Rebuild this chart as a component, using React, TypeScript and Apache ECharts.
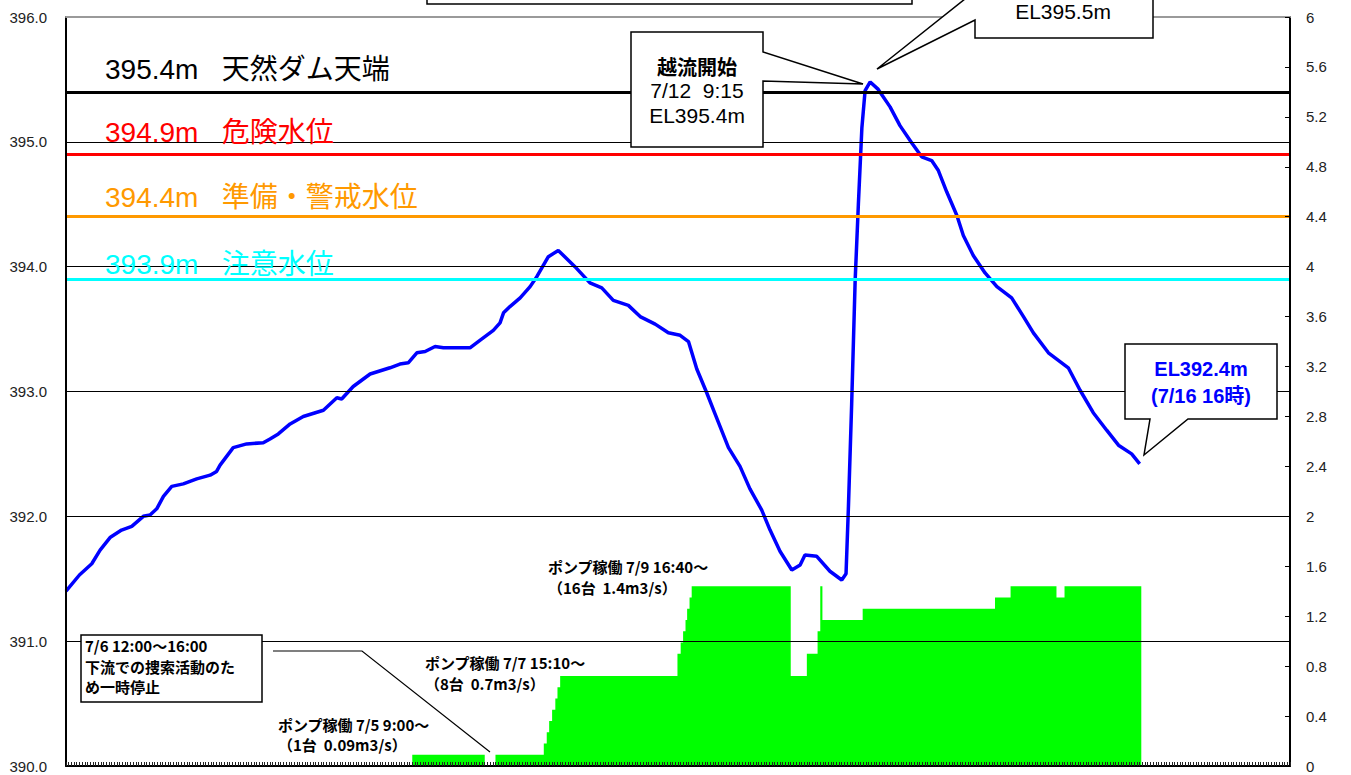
import React, { useEffect, useRef } from 'react';
import * as echarts from 'echarts';

// x = hours elapsed since 6/30 0:00 (axis runs to 7/19 0:00)
const X_MIN = 0;
const X_MAX = 456;

// water level (EL m): [hour, level]
const levelData: [number, number][] = [
  [0, 391.40], [5, 391.53], [9.6, 391.62], [12.7, 391.73], [16.4, 391.83], [20.7, 391.89],
  [24.5, 391.92], [28.8, 392.0], [31.3, 392.01], [33.8, 392.06], [36.3, 392.16], [39.4, 392.24],
  [43.7, 392.26], [48.7, 392.3], [53.7, 392.33], [56.1, 392.36], [57.4, 392.41], [62.3, 392.55],
  [67.3, 392.58], [73.5, 392.59], [76, 392.62], [79.1, 392.66], [83.5, 392.74], [88.4, 392.8],
  [95.9, 392.85], [100.9, 392.95], [102.7, 392.94], [107, 393.04], [113.3, 393.14], [120.7, 393.19],
  [124.4, 393.22], [127.5, 393.23], [130.7, 393.31], [133.8, 393.32], [137.5, 393.36], [140.6, 393.35],
  [146.2, 393.35], [150.5, 393.35], [154.2, 393.41], [159.2, 393.49], [161.7, 393.55], [163, 393.63],
  [165.4, 393.68], [169.2, 393.75], [172.9, 393.84], [175.4, 393.92], [179.7, 394.08], [183.4, 394.13],
  [189.6, 394.0], [195.2, 393.87], [199.6, 393.83], [203.9, 393.73], [209.5, 393.69], [213.9, 393.6],
  [219.5, 393.54], [224.4, 393.47], [228.8, 393.45], [231.9, 393.4], [235, 393.18], [238.7, 392.99],
  [241.8, 392.82], [246.8, 392.55], [251.1, 392.4], [254.8, 392.22], [259.2, 392.05], [262.3, 391.89],
  [266, 391.72], [270.4, 391.57], [273.5, 391.61], [275.3, 391.69], [279.7, 391.68], [284.6, 391.56],
  [289, 391.49], [290.6, 391.54], [291.5, 392.08], [292.7, 392.9], [294, 393.89], [295.2, 394.5],
  [296.5, 395.11], [297.7, 395.41], [299.6, 395.48], [302.6, 395.42], [307, 395.28], [310.7, 395.13],
  [315.1, 394.99], [318.8, 394.88], [322.5, 394.85], [325, 394.77], [328.1, 394.6], [331.9, 394.41],
  [334.3, 394.25], [338, 394.09], [342.4, 393.95], [346.8, 393.84], [352.3, 393.75], [356.7, 393.6],
  [360.4, 393.47], [366, 393.31], [373.4, 393.19], [377.8, 393.01], [382.7, 392.83], [387.7, 392.69],
  [392.1, 392.57], [397, 392.5], [400, 392.42],
];

// pump discharge (m3/s): [hour, value holding until next point]
const pumpData: [number, number][] = [
  [129, 0.09], [156, 0], [160, 0.09], [178, 0.18], [179.1, 0.27], [180, 0.36], [181.1, 0.45],
  [182.3, 0.54], [183.1, 0.63], [184.1, 0.72], [227.8, 0.9], [229, 0.99], [229.9, 1.08],
  [230.8, 1.17], [231.4, 1.26], [232.3, 1.35], [233.1, 1.44], [270, 0.72], [276, 0.9],
  [280, 1.08], [281, 1.44], [281.8, 1.17], [296.8, 1.26], [346.1, 1.35], [351.9, 1.44],
  [369, 1.35], [372, 1.44], [400.6, 0],
];

const refLevels = [395.4, 394.9, 394.4, 393.9];
const refNames = ['天然ダム天端', '危険水位', '準備・警戒水位', '注意水位'];
const refColors = ['#000000', '#ff0000', '#ff9900', '#00ffff'];
const refLabelOffsets = [22, 22, 19, 15];

const LEFT_MIN = 390;
const LEFT_MAX = 396;
const LEFT_STEP = 1;
const RIGHT_MIN = 0;
const RIGHT_MAX = 6;
const RIGHT_STEP = 0.4;

const JP = '"Noto Sans CJK JP", sans-serif';
const LAT = '"Liberation Sans", "Noto Sans CJK JP", sans-serif';

export default function App() {
  const ref = useRef<HTMLDivElement>(null);

  useEffect(() => {
    const chart = echarts.init(ref.current!, null, { renderer: 'svg' });
    chart.setOption({
      animation: false,
      backgroundColor: '#ffffff',
      grid: { left: 66, right: 61, top: 17, bottom: 9, containLabel: false },
      xAxis: [
        {
          type: 'value', min: X_MIN, max: X_MAX, interval: 1, z: 10,
          axisLine: { show: true, onZero: false, lineStyle: { color: '#000', width: 2 } },
          axisTick: { show: true, inside: true, length: 4, lineStyle: { color: '#222', width: 1 } },
          axisLabel: { show: false },
          splitLine: { show: false },
        },
        {
          type: 'value', position: 'top', min: X_MIN, max: X_MAX, z: 10,
          axisLine: { show: true, onZero: false, lineStyle: { color: '#9a9a9a', width: 2 } },
          axisTick: { show: false }, axisLabel: { show: false }, splitLine: { show: false },
        },
      ],
      yAxis: [
        {
          type: 'value', position: 'left', min: LEFT_MIN, max: LEFT_MAX, interval: LEFT_STEP, z: 10,
          axisLine: { show: true, onZero: false, lineStyle: { color: '#000', width: 2 } },
          axisTick: { show: false },
          minorTick: { show: false },
          axisLabel: {
            formatter: (v: number) => v.toFixed(1), fontSize: 15, color: '#222', margin: 19, fontFamily: LAT,
          },
          splitLine: { show: true, showMinLine: false, showMaxLine: false, lineStyle: { color: '#000', width: 1 } },
        },
        {
          type: 'value', position: 'right', min: RIGHT_MIN, max: RIGHT_MAX, interval: RIGHT_STEP, z: 10,
          axisLine: { show: true, onZero: false, lineStyle: { color: '#000', width: 2 } },
          axisTick: { show: true, inside: true, length: 5, lineStyle: { color: '#000', width: 1 } },
          minorTick: { show: false },
          axisLabel: {
            formatter: (v: number) => String(+v.toFixed(1)), fontSize: 15, color: '#222', margin: 16, fontFamily: LAT,
          },
          splitLine: { show: false },
        },
      ],
      series: [
        {
          name: 'ポンプ', type: 'line', xAxisIndex: 0, yAxisIndex: 1, data: pumpData,
          step: 'end', symbol: 'none', z: 1,
          lineStyle: { width: 0, color: '#00ff00' },
          areaStyle: { color: '#00ff00', opacity: 1 },
        },
        {
          name: '水位', type: 'line', xAxisIndex: 0, yAxisIndex: 0, data: levelData,
          symbol: 'none', z: 3,
          lineStyle: { color: '#0000ff', width: 3.5 },
        },
        {
          name: '基準', type: 'line', xAxisIndex: 0, yAxisIndex: 0, data: [], z: 4,
          markLine: {
            silent: true, symbol: 'none', animation: false,
            label: { show: false },
            data: refLevels.map((v, i) => ({
              yAxis: v, lineStyle: { color: refColors[i], width: 3, type: 'solid' },
            })),
          },
        },
      ],
    });

    const py = (v: number) => chart.convertToPixel({ yAxisIndex: 0 }, v) as number;

    const txt = (id: string, x: number, y: number, text: string, font: string, fill = '#000', align = 'left', lineHeight?: number) => ({
      type: 'text', id, x, y, z: 120,
      style: {
        text, font, fill, align, textAlign: align, verticalAlign: 'middle', textVerticalAlign: 'middle',
        ...(lineHeight ? { lineHeight } : {}),
      },
    });

    const box = (id: string, pts: number[][]) => ({
      type: 'polygon', id, z: 110,
      shape: { points: pts },
      style: { fill: '#ffffff', stroke: '#000000', lineWidth: 1.5 },
    });

    const graphics: any[] = [];
    refLevels.forEach((v, i) => {
      graphics.push(txt('ref' + i, 105, py(v) - refLabelOffsets[i], `${v.toFixed(1)}m   ${refNames[i]}`,
        `28px ${LAT}`, refColors[i]));
    });

    // title box (clipped at top)
    graphics.push({ type: 'rect', id: 'title', z: 110, shape: { x: 427, y: -40, width: 485, height: 44 },
      style: { fill: '#fff', stroke: '#000', lineWidth: 1.5 } });

    // callout: max level
    graphics.push(box('cMax', [[975, -40], [1153, -40], [1153, 38], [975, 38], [975, 20], [877, 69], [975, -9]]));
    graphics.push(txt('tMax', 1063, 11, 'EL395.5m', `21px ${LAT}`, '#000', 'center'));

    // callout: overflow start
    graphics.push(box('cOv', [[631, 32], [763, 32], [763, 52], [863, 84], [763, 81], [763, 147], [631, 147]]));
    graphics.push(txt('tOv1', 697, 66, '越流開始', `bold 20px ${JP}`, '#000', 'center'));
    graphics.push(txt('tOv2', 697, 90, '7/12  9:15', `21px ${LAT}`, '#000', 'center'));
    graphics.push(txt('tOv3', 697, 115, 'EL395.4m', `21px ${LAT}`, '#000', 'center'));

    // callout: latest
    graphics.push(box('cLast', [[1125, 344], [1277, 344], [1277, 419], [1188, 419], [1144, 455], [1150, 419], [1125, 419]]));
    graphics.push(txt('tLast', 1201, 382, 'EL392.4m\n(7/16 16時)', `bold 20px ${LAT}`, '#0000ff', 'center', 27));

    // stop note box
    graphics.push({ type: 'rect', id: 'stopBox', z: 110, shape: { x: 81, y: 635, width: 181, height: 67 },
      style: { fill: '#fff', stroke: '#000', lineWidth: 1.5 } });
    graphics.push(txt('stop', 85, 666, '7/6 12:00～16:00\n下流での捜索活動のた\nめ一時停止', `bold 15px ${JP}`, '#000', 'left', 20.5));
    graphics.push({ type: 'polyline', id: 'stopLead', z: 110,
      shape: { points: [[273, 651], [362, 651], [490, 752]] },
      style: { stroke: '#000', lineWidth: 1.2, fill: 'none' } });

    // pump labels
    graphics.push(txt('p1', 278, 734, 'ポンプ稼働 7/5 9:00～\n（1台  0.09m3/s）', `bold 15px ${JP}`, '#000', 'left', 20));
    graphics.push(txt('p2', 425, 672.5, 'ポンプ稼働 7/7 15:10～\n（8台  0.7m3/s）', `bold 15px ${JP}`, '#000', 'left', 21));
    graphics.push(txt('p3', 548, 576.5, 'ポンプ稼働 7/9 16:40～\n（16台  1.4m3/s）', `bold 15px ${JP}`, '#000', 'left', 21));

    chart.setOption({ graphic: graphics });

    return () => chart.dispose();
  }, []);

  return (
    <div
      ref={ref}
      style={{ position: 'fixed', left: 0, top: 0, width: 1351, height: 775, background: '#fff' }}
    />
  );
}
